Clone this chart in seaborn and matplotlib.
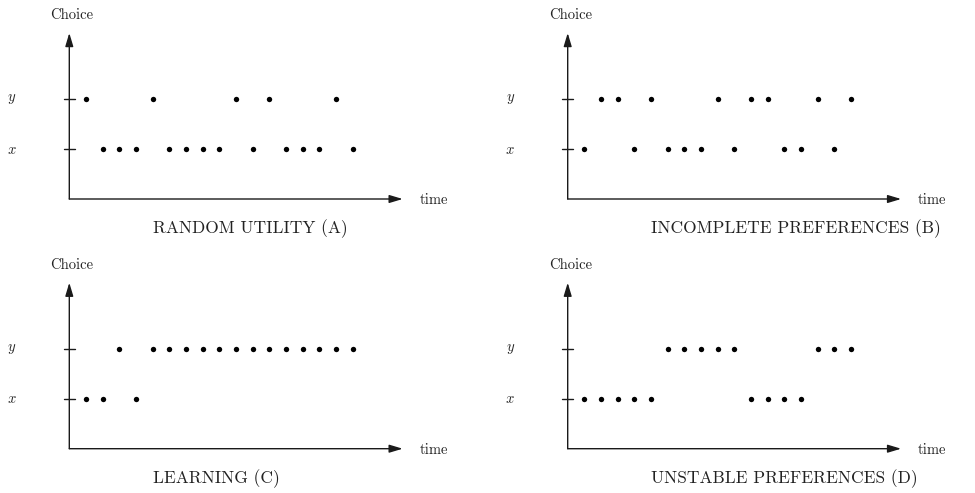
import matplotlib
matplotlib.use("Agg")
import matplotlib.pyplot as plt
import seaborn as sns
import pandas as pd

# ---- data ----
times = list(range(1, 18))
choices_a = ["y", "x", "x", "x", "y", "x", "x", "x", "x", "y", "x", "y", "x", "x", "x", "y", "x"]
choices_b = ["x", "y", "y", "x", "y", "x", "x", "x", "y", "x", "y", "y", "x", "x", "y", "x", "y"]
choices_c = ["x", "x", "y", "x", "y", "y", "y", "y", "y", "y", "y", "y", "y", "y", "y", "y", "y"]
choices_d = ["x", "x", "x", "x", "x", "y", "y", "y", "y", "y", "x", "x", "x", "x", "y", "y", "y"]
titles = ["RANDOM UTILITY (A)", "INCOMPLETE PREFERENCES (B)",
          "LEARNING (C)", "UNSTABLE PREFERENCES (D)"]
level_labels = ["x", "y"]
level_values = [1, 2]

sns.set_theme(style="white")
plt.rcParams["mathtext.fontset"] = "cm"

W, H = 975, 493
fig = plt.figure(figsize=(W / 100, H / 100), dpi=100)

ux, uy = 16.67, 50.0
xlim = (-0.5, 21.0)
ylim = (-0.3, 3.5)
# panel origins in pixels (x of vertical axis, y of horizontal axis)
origins = [(69.3, 199.0), (567.7, 199.0), (69.3, 448.7), (567.7, 448.7)]
all_choices = [choices_a, choices_b, choices_c, choices_d]
lvl_map = dict(zip(level_labels, level_values))

serif = "cmr10"
axis_col = "#1a1a1a"
text_col = "#222222"

for (x0, y0), ch, title in zip(origins, all_choices, titles):
    left = x0 + xlim[0] * ux
    right = x0 + xlim[1] * ux
    top = y0 - ylim[1] * uy
    bottom = y0 - ylim[0] * uy
    ax = fig.add_axes([left / W, 1 - bottom / H, (right - left) / W, (bottom - top) / H])
    ax.set_xlim(*xlim)
    ax.set_ylim(*ylim)
    ax.axis("off")

    df = pd.DataFrame({"time": times, "choice": [lvl_map[c] for c in ch]})
    sns.scatterplot(data=df, x="time", y="choice", ax=ax, color="black",
                    s=15, linewidth=0, legend=False, zorder=3)

    arrow = dict(arrowstyle="-|>,head_length=0.8,head_width=0.24", lw=1.0,
                 color=axis_col, shrinkA=0, shrinkB=0, mutation_scale=10)
    ax.annotate("", xy=(20.0, 0), xytext=(0, 0), arrowprops=arrow, annotation_clip=False)
    ax.annotate("", xy=(0, 3.32), xytext=(0, 0), arrowprops=arrow, annotation_clip=False)

    for lab, v in zip(level_labels, level_values):
        ax.plot([-0.32, 0.32], [v, v], color=axis_col, lw=1.0)
        ax.text(-3.45, v, f"${lab}$", ha="center", va="center", fontsize=10.5)

    ax.text(0.15, 3.67, "Choice", ha="center", va="center", fontfamily=serif,
            fontsize=10.5, color=text_col)
    ax.text(21.0, -0.02, "time", ha="left", va="center", fontfamily=serif,
            fontsize=10.5, color=text_col)
    ax.text(5.0, -0.59, title, ha="left", va="center", fontfamily=serif,
            fontsize=12.5, color=text_col)

fig.savefig("out.png", dpi=100)
